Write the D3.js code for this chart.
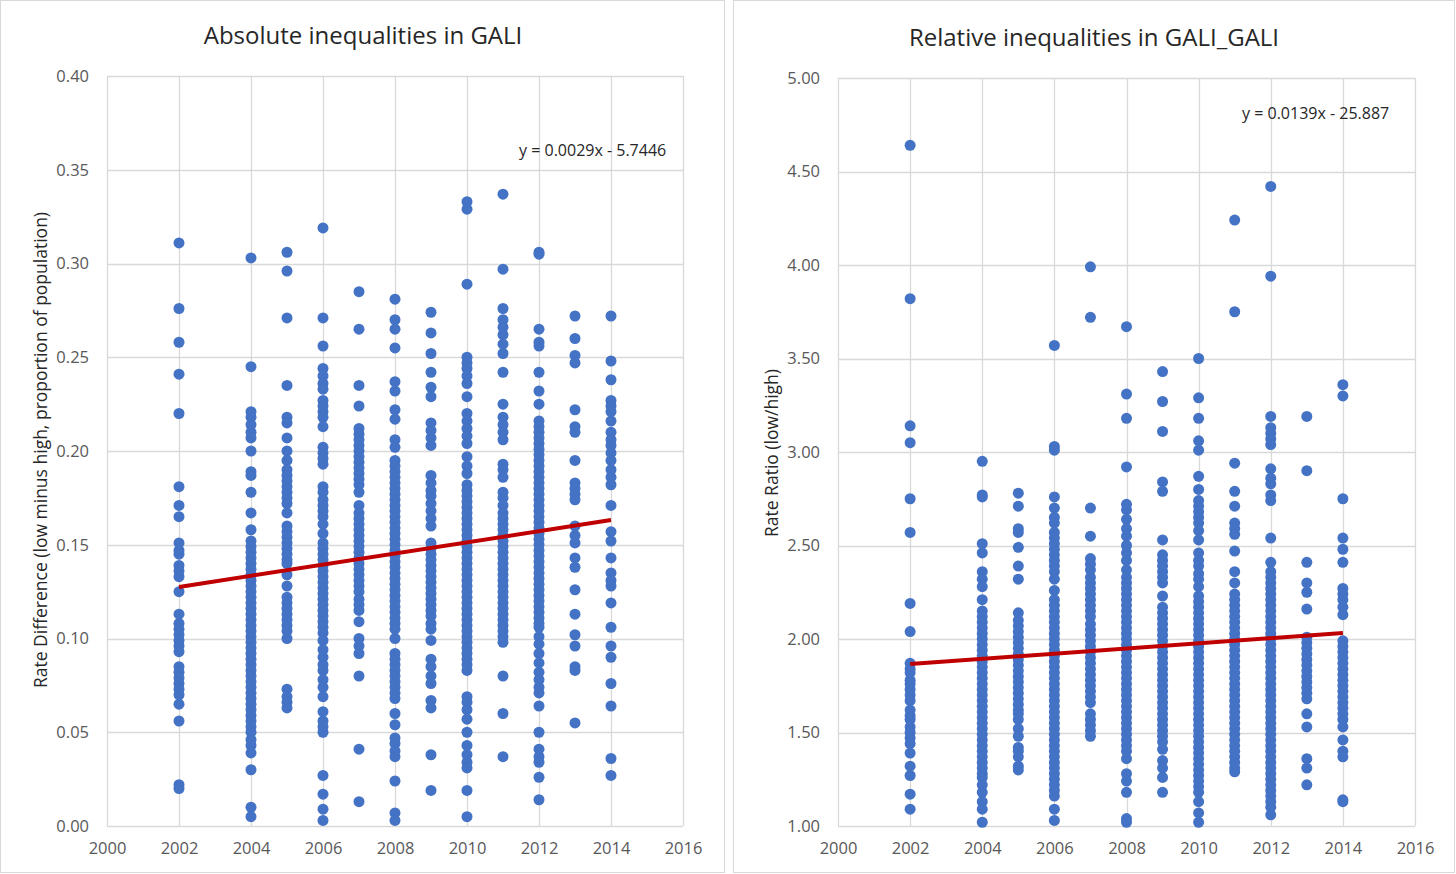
<!DOCTYPE html>
<html>
<head>
<meta charset="utf-8">
<script src="https://cdn.jsdelivr.net/npm/d3@7"></script>
<style>
  body { margin: 0; background: #fff; }
  svg { display: block; font-family: "Open Sans", Lato, sans-serif; }
</style>
</head>
<body>
<script>
// ---- data: absolute inequalities (rate difference) per survey year ----
const abs2002 = [0.311,0.276,0.258,0.241,0.220,0.181,0.171,0.165,0.151,0.147,0.145,0.139,0.136,0.133,0.125,0.113,0.108,0.105,0.102,0.099,0.096,0.093,0.085,0.082,0.079,0.076,0.073,0.070,0.065,0.056,0.022,0.020];
const abs2004 = [0.303,0.245,0.221,0.218,0.214,0.210,0.207,0.200,0.189,0.187,0.178,0.167,0.158,0.152,0.149,0.146,0.143,0.140,0.137,0.134,0.131,0.128,0.125,0.122,0.119,0.116,0.113,0.110,0.107,0.104,0.101,0.098,0.095,0.092,0.089,0.086,0.083,0.080,0.077,0.074,0.071,0.068,0.065,0.062,0.059,0.056,0.053,0.050,0.046,0.043,0.039,0.030,0.010,0.005];
const abs2005 = [0.306,0.296,0.271,0.235,0.218,0.215,0.207,0.200,0.195,0.190,0.187,0.184,0.181,0.178,0.175,0.172,0.167,0.160,0.157,0.154,0.151,0.148,0.145,0.142,0.140,0.134,0.128,0.122,0.119,0.116,0.113,0.110,0.107,0.104,0.100,0.073,0.069,0.066,0.063];
const abs2006 = [0.319,0.271,0.256,0.244,0.240,0.236,0.233,0.227,0.224,0.221,0.218,0.213,0.202,0.199,0.196,0.193,0.181,0.178,0.174,0.171,0.168,0.165,0.161,0.156,0.151,0.148,0.145,0.142,0.139,0.136,0.133,0.130,0.127,0.124,0.121,0.118,0.115,0.112,0.109,0.106,0.103,0.099,0.094,0.090,0.086,0.083,0.078,0.074,0.069,0.061,0.056,0.053,0.050,0.027,0.017,0.009,0.003];
const abs2007 = [0.285,0.265,0.235,0.224,0.212,0.209,0.206,0.203,0.200,0.197,0.194,0.191,0.188,0.185,0.182,0.178,0.171,0.167,0.164,0.161,0.158,0.155,0.152,0.149,0.146,0.143,0.140,0.137,0.134,0.131,0.128,0.125,0.121,0.118,0.115,0.109,0.100,0.096,0.092,0.080,0.041,0.013];
const abs2008 = [0.281,0.270,0.265,0.255,0.237,0.232,0.222,0.217,0.206,0.202,0.195,0.192,0.189,0.186,0.183,0.180,0.177,0.174,0.171,0.168,0.165,0.162,0.159,0.156,0.153,0.150,0.147,0.144,0.141,0.138,0.135,0.132,0.129,0.126,0.123,0.120,0.117,0.114,0.111,0.108,0.105,0.100,0.092,0.089,0.086,0.083,0.080,0.077,0.074,0.071,0.068,0.060,0.054,0.047,0.044,0.040,0.037,0.024,0.007,0.003];
const abs2009 = [0.274,0.263,0.252,0.242,0.234,0.229,0.215,0.211,0.207,0.203,0.187,0.183,0.179,0.176,0.172,0.168,0.164,0.160,0.151,0.148,0.145,0.142,0.139,0.136,0.133,0.130,0.127,0.124,0.121,0.118,0.115,0.112,0.108,0.105,0.099,0.089,0.085,0.080,0.076,0.067,0.063,0.038,0.019];
const abs2010 = [0.333,0.329,0.289,0.250,0.247,0.244,0.240,0.236,0.229,0.220,0.216,0.212,0.208,0.204,0.197,0.192,0.188,0.182,0.179,0.176,0.173,0.170,0.167,0.164,0.161,0.158,0.155,0.152,0.149,0.146,0.143,0.140,0.137,0.134,0.131,0.128,0.125,0.122,0.119,0.116,0.113,0.110,0.107,0.104,0.101,0.098,0.095,0.092,0.089,0.086,0.083,0.069,0.066,0.062,0.057,0.050,0.043,0.038,0.034,0.031,0.019,0.005];
const abs2011 = [0.337,0.297,0.276,0.270,0.266,0.262,0.257,0.252,0.242,0.225,0.218,0.214,0.210,0.206,0.193,0.190,0.186,0.178,0.175,0.171,0.167,0.164,0.161,0.158,0.155,0.152,0.149,0.146,0.143,0.140,0.137,0.134,0.131,0.128,0.125,0.122,0.119,0.116,0.113,0.110,0.107,0.104,0.101,0.098,0.080,0.060,0.037];
const abs2012 = [0.306,0.305,0.265,0.258,0.256,0.242,0.232,0.225,0.216,0.213,0.210,0.207,0.204,0.201,0.198,0.195,0.192,0.189,0.186,0.183,0.180,0.177,0.174,0.171,0.168,0.165,0.162,0.159,0.156,0.153,0.150,0.147,0.144,0.141,0.138,0.135,0.132,0.129,0.126,0.123,0.120,0.117,0.114,0.111,0.108,0.106,0.101,0.097,0.092,0.087,0.082,0.078,0.074,0.071,0.064,0.050,0.041,0.037,0.034,0.026,0.014];
const abs2013 = [0.272,0.260,0.251,0.247,0.222,0.213,0.210,0.195,0.183,0.180,0.177,0.174,0.160,0.155,0.151,0.143,0.138,0.126,0.113,0.102,0.096,0.085,0.083,0.055];
const abs2014 = [0.272,0.248,0.238,0.227,0.224,0.221,0.216,0.210,0.206,0.203,0.199,0.195,0.190,0.186,0.182,0.171,0.157,0.152,0.143,0.135,0.131,0.128,0.119,0.106,0.096,0.090,0.076,0.064,0.036,0.027];

// ---- data: relative inequalities (rate ratio) per survey year ----
const rel2002 = [4.64,3.82,3.14,3.05,2.75,2.57,2.19,2.04,1.87,1.84,1.82,1.78,1.76,1.73,1.70,1.67,1.62,1.59,1.57,1.53,1.50,1.47,1.44,1.39,1.32,1.27,1.17,1.09];
const rel2004 = [2.95,2.77,2.76,2.51,2.46,2.36,2.32,2.28,2.21,2.15,2.12,2.09,2.06,2.03,2.00,1.97,1.94,1.91,1.88,1.85,1.82,1.79,1.76,1.73,1.70,1.67,1.64,1.61,1.58,1.55,1.52,1.49,1.46,1.43,1.40,1.37,1.34,1.31,1.28,1.26,1.22,1.18,1.13,1.09,1.02];
const rel2005 = [2.78,2.71,2.59,2.57,2.49,2.39,2.32,2.14,2.10,2.07,2.04,2.01,1.98,1.95,1.92,1.89,1.86,1.83,1.80,1.77,1.74,1.71,1.68,1.65,1.62,1.60,1.57,1.52,1.48,1.42,1.40,1.37,1.32,1.30];
const rel2006 = [3.57,3.03,3.01,2.76,2.70,2.65,2.62,2.57,2.54,2.51,2.48,2.45,2.42,2.39,2.36,2.32,2.26,2.21,2.18,2.15,2.12,2.09,2.06,2.03,2.00,1.97,1.94,1.91,1.88,1.85,1.82,1.79,1.76,1.73,1.70,1.67,1.64,1.61,1.58,1.55,1.52,1.49,1.46,1.43,1.40,1.37,1.34,1.31,1.28,1.25,1.22,1.19,1.16,1.09,1.03];
const rel2007 = [3.99,3.72,2.70,2.55,2.43,2.40,2.37,2.33,2.30,2.27,2.24,2.21,2.18,2.15,2.12,2.08,2.05,2.02,1.99,1.96,1.93,1.90,1.87,1.84,1.81,1.78,1.75,1.72,1.69,1.66,1.60,1.57,1.54,1.51,1.48];
const rel2008 = [3.67,3.31,3.18,2.92,2.72,2.69,2.64,2.59,2.55,2.50,2.46,2.42,2.37,2.33,2.30,2.27,2.24,2.21,2.18,2.15,2.12,2.09,2.06,2.03,2.00,1.97,1.94,1.91,1.88,1.85,1.82,1.79,1.76,1.73,1.70,1.67,1.64,1.61,1.58,1.55,1.52,1.49,1.46,1.43,1.40,1.36,1.28,1.24,1.18,1.04,1.02];
const rel2009 = [3.43,3.27,3.11,2.84,2.79,2.53,2.45,2.42,2.39,2.36,2.33,2.30,2.23,2.17,2.14,2.11,2.08,2.05,2.02,1.99,1.96,1.93,1.90,1.87,1.84,1.81,1.78,1.75,1.72,1.69,1.66,1.63,1.60,1.57,1.54,1.51,1.48,1.45,1.41,1.35,1.31,1.26,1.18];
const rel2010 = [3.50,3.29,3.18,3.06,3.01,2.87,2.80,2.74,2.71,2.68,2.65,2.62,2.58,2.53,2.46,2.42,2.39,2.35,2.32,2.28,2.23,2.20,2.17,2.14,2.11,2.08,2.05,2.02,1.99,1.96,1.93,1.90,1.87,1.84,1.81,1.78,1.75,1.72,1.69,1.66,1.63,1.60,1.57,1.54,1.51,1.48,1.45,1.42,1.39,1.36,1.33,1.30,1.27,1.24,1.21,1.18,1.13,1.07,1.02];
const rel2011 = [4.24,3.75,2.94,2.79,2.71,2.62,2.59,2.56,2.47,2.36,2.30,2.24,2.21,2.18,2.15,2.12,2.09,2.06,2.03,2.00,1.97,1.94,1.91,1.88,1.85,1.82,1.79,1.76,1.73,1.70,1.67,1.64,1.61,1.58,1.55,1.52,1.49,1.46,1.43,1.40,1.37,1.34,1.31,1.29];
const rel2012 = [4.42,3.94,3.19,3.13,3.10,3.07,3.04,2.91,2.86,2.83,2.77,2.74,2.54,2.41,2.36,2.33,2.30,2.27,2.24,2.21,2.18,2.15,2.12,2.09,2.06,2.03,2.00,1.97,1.94,1.91,1.88,1.85,1.82,1.79,1.76,1.73,1.70,1.67,1.64,1.61,1.58,1.55,1.52,1.49,1.46,1.43,1.40,1.37,1.34,1.31,1.28,1.25,1.22,1.19,1.16,1.13,1.10,1.06];
const rel2013 = [3.19,2.90,2.41,2.30,2.25,2.16,2.01,1.98,1.95,1.92,1.89,1.86,1.83,1.80,1.77,1.74,1.71,1.68,1.60,1.53,1.36,1.31,1.22];
const rel2014 = [3.36,3.30,2.75,2.54,2.48,2.41,2.27,2.24,2.21,2.17,2.13,1.99,1.96,1.93,1.90,1.87,1.84,1.81,1.78,1.75,1.72,1.69,1.66,1.63,1.60,1.57,1.53,1.46,1.40,1.37,1.14,1.13];

const years = [2002, 2004, 2005, 2006, 2007, 2008, 2009, 2010, 2011, 2012, 2013, 2014];
const absSeries = [abs2002, abs2004, abs2005, abs2006, abs2007, abs2008, abs2009, abs2010, abs2011, abs2012, abs2013, abs2014];
const relSeries = [rel2002, rel2004, rel2005, rel2006, rel2007, rel2008, rel2009, rel2010, rel2011, rel2012, rel2013, rel2014];

// linear trend end points
const trendYears = [2002, 2014];
const absTrend = [0.1275, 0.1632];
const relTrend = [1.866, 2.032];

const xTicks = [2000, 2002, 2004, 2006, 2008, 2010, 2012, 2014, 2016];
const absTicks = [0, 0.05, 0.10, 0.15, 0.20, 0.25, 0.30, 0.35, 0.40];
const relTicks = [1.0, 1.5, 2.0, 2.5, 3.0, 3.5, 4.0, 4.5, 5.0];

const W = 1456, H = 874;
const font = "'Open Sans', Lato, sans-serif";
const svg = d3.select("body").append("svg").attr("width", W).attr("height", H);

function drawPanel(cfg) {
  const g = svg.append("g");
  g.append("rect")
    .attr("x", cfg.box[0] + 0.5).attr("y", 0.5)
    .attr("width", cfg.box[1] - cfg.box[0]).attr("height", H - 2)
    .attr("fill", "#fff").attr("stroke", "#d9d9d9");

  const x = d3.scaleLinear().domain([2000, 2016]).range(cfg.xr);
  const y = d3.scaleLinear().domain(cfg.domain).range(cfg.yr);

  // gridlines
  g.append("g").selectAll("line").data(cfg.yTicks).join("line")
    .attr("x1", cfg.xr[0]).attr("x2", cfg.xr[1])
    .attr("y1", d => Math.round(y(d)) + 0.5).attr("y2", d => Math.round(y(d)) + 0.5)
    .attr("stroke", "#d9d9d9").attr("stroke-width", 1.3);
  g.append("g").selectAll("line").data(xTicks).join("line")
    .attr("x1", d => Math.round(x(d)) + 0.5).attr("x2", d => Math.round(x(d)) + 0.5)
    .attr("y1", cfg.yr[1]).attr("y2", cfg.yr[0])
    .attr("stroke", "#d9d9d9").attr("stroke-width", 1.3);

  // axes (labels only)
  const yAxis = g.append("g")
    .attr("transform", `translate(${cfg.xr[0] - 15},0)`)
    .call(d3.axisLeft(y).tickValues(cfg.yTicks).tickSize(0).tickFormat(d3.format(".2f")));
  const xAxis = g.append("g")
    .attr("transform", `translate(0,${cfg.yr[0] + 13})`)
    .call(d3.axisBottom(x).tickValues(xTicks).tickSize(0).tickFormat(d3.format("d")));
  [yAxis, xAxis].forEach(a => {
    a.select(".domain").remove();
    a.selectAll("text").attr("fill", "#595959").style("font-size", "16.5px")
      .style("font-family", font);
  });

  // points
  const pts = [];
  years.forEach((yr, i) => cfg.series[i].forEach(v => pts.push([yr, v])));
  g.append("g").selectAll("circle").data(pts).join("circle")
    .attr("cx", d => x(d[0])).attr("cy", d => y(d[1]))
    .attr("r", 5.5).attr("fill", "#4472c4");

  // trend line
  g.append("line")
    .attr("x1", x(trendYears[0])).attr("y1", y(cfg.trend[0]))
    .attr("x2", x(trendYears[1])).attr("y2", y(cfg.trend[1]))
    .attr("stroke", "#c00000").attr("stroke-width", 4);

  // titles
  g.append("text").attr("x", cfg.titleX).attr("y", cfg.titleY)
    .attr("text-anchor", "middle").attr("fill", "#262626")
    .style("font-size", "24px").text(cfg.title);
  g.append("text")
    .attr("transform", `translate(${cfg.yLabelX},${cfg.yLabelY}) rotate(-90)`)
    .attr("text-anchor", "middle").attr("fill", "#262626")
    .style("font-size", "17.5px").text(cfg.yLabel);
  g.append("text").attr("x", cfg.eq[0]).attr("y", cfg.eq[1])
    .attr("fill", "#262626").style("font-size", "16px").text(cfg.eqText);
}

drawPanel({
  box: [0, 724], xr: [107, 683], yr: [826, 76], domain: [0, 0.4],
  yTicks: absTicks, series: absSeries, trend: absTrend,
  title: "Absolute inequalities in GALI", titleX: 363, titleY: 44,
  yLabel: "Rate Difference (low minus high, proportion of population)", yLabelX: 47, yLabelY: 450,
  eq: [519, 156], eqText: "y = 0.0029x - 5.7446"
});
drawPanel({
  box: [733, 1454], xr: [838, 1415], yr: [826, 78], domain: [1, 5],
  yTicks: relTicks, series: relSeries, trend: relTrend,
  title: "Relative inequalities in GALI_GALI", titleX: 1094, titleY: 46,
  yLabel: "Rate Ratio (low/high)", yLabelX: 778, yLabelY: 453,
  eq: [1242, 119], eqText: "y = 0.0139x - 25.887"
});
</script>
</body>
</html>
